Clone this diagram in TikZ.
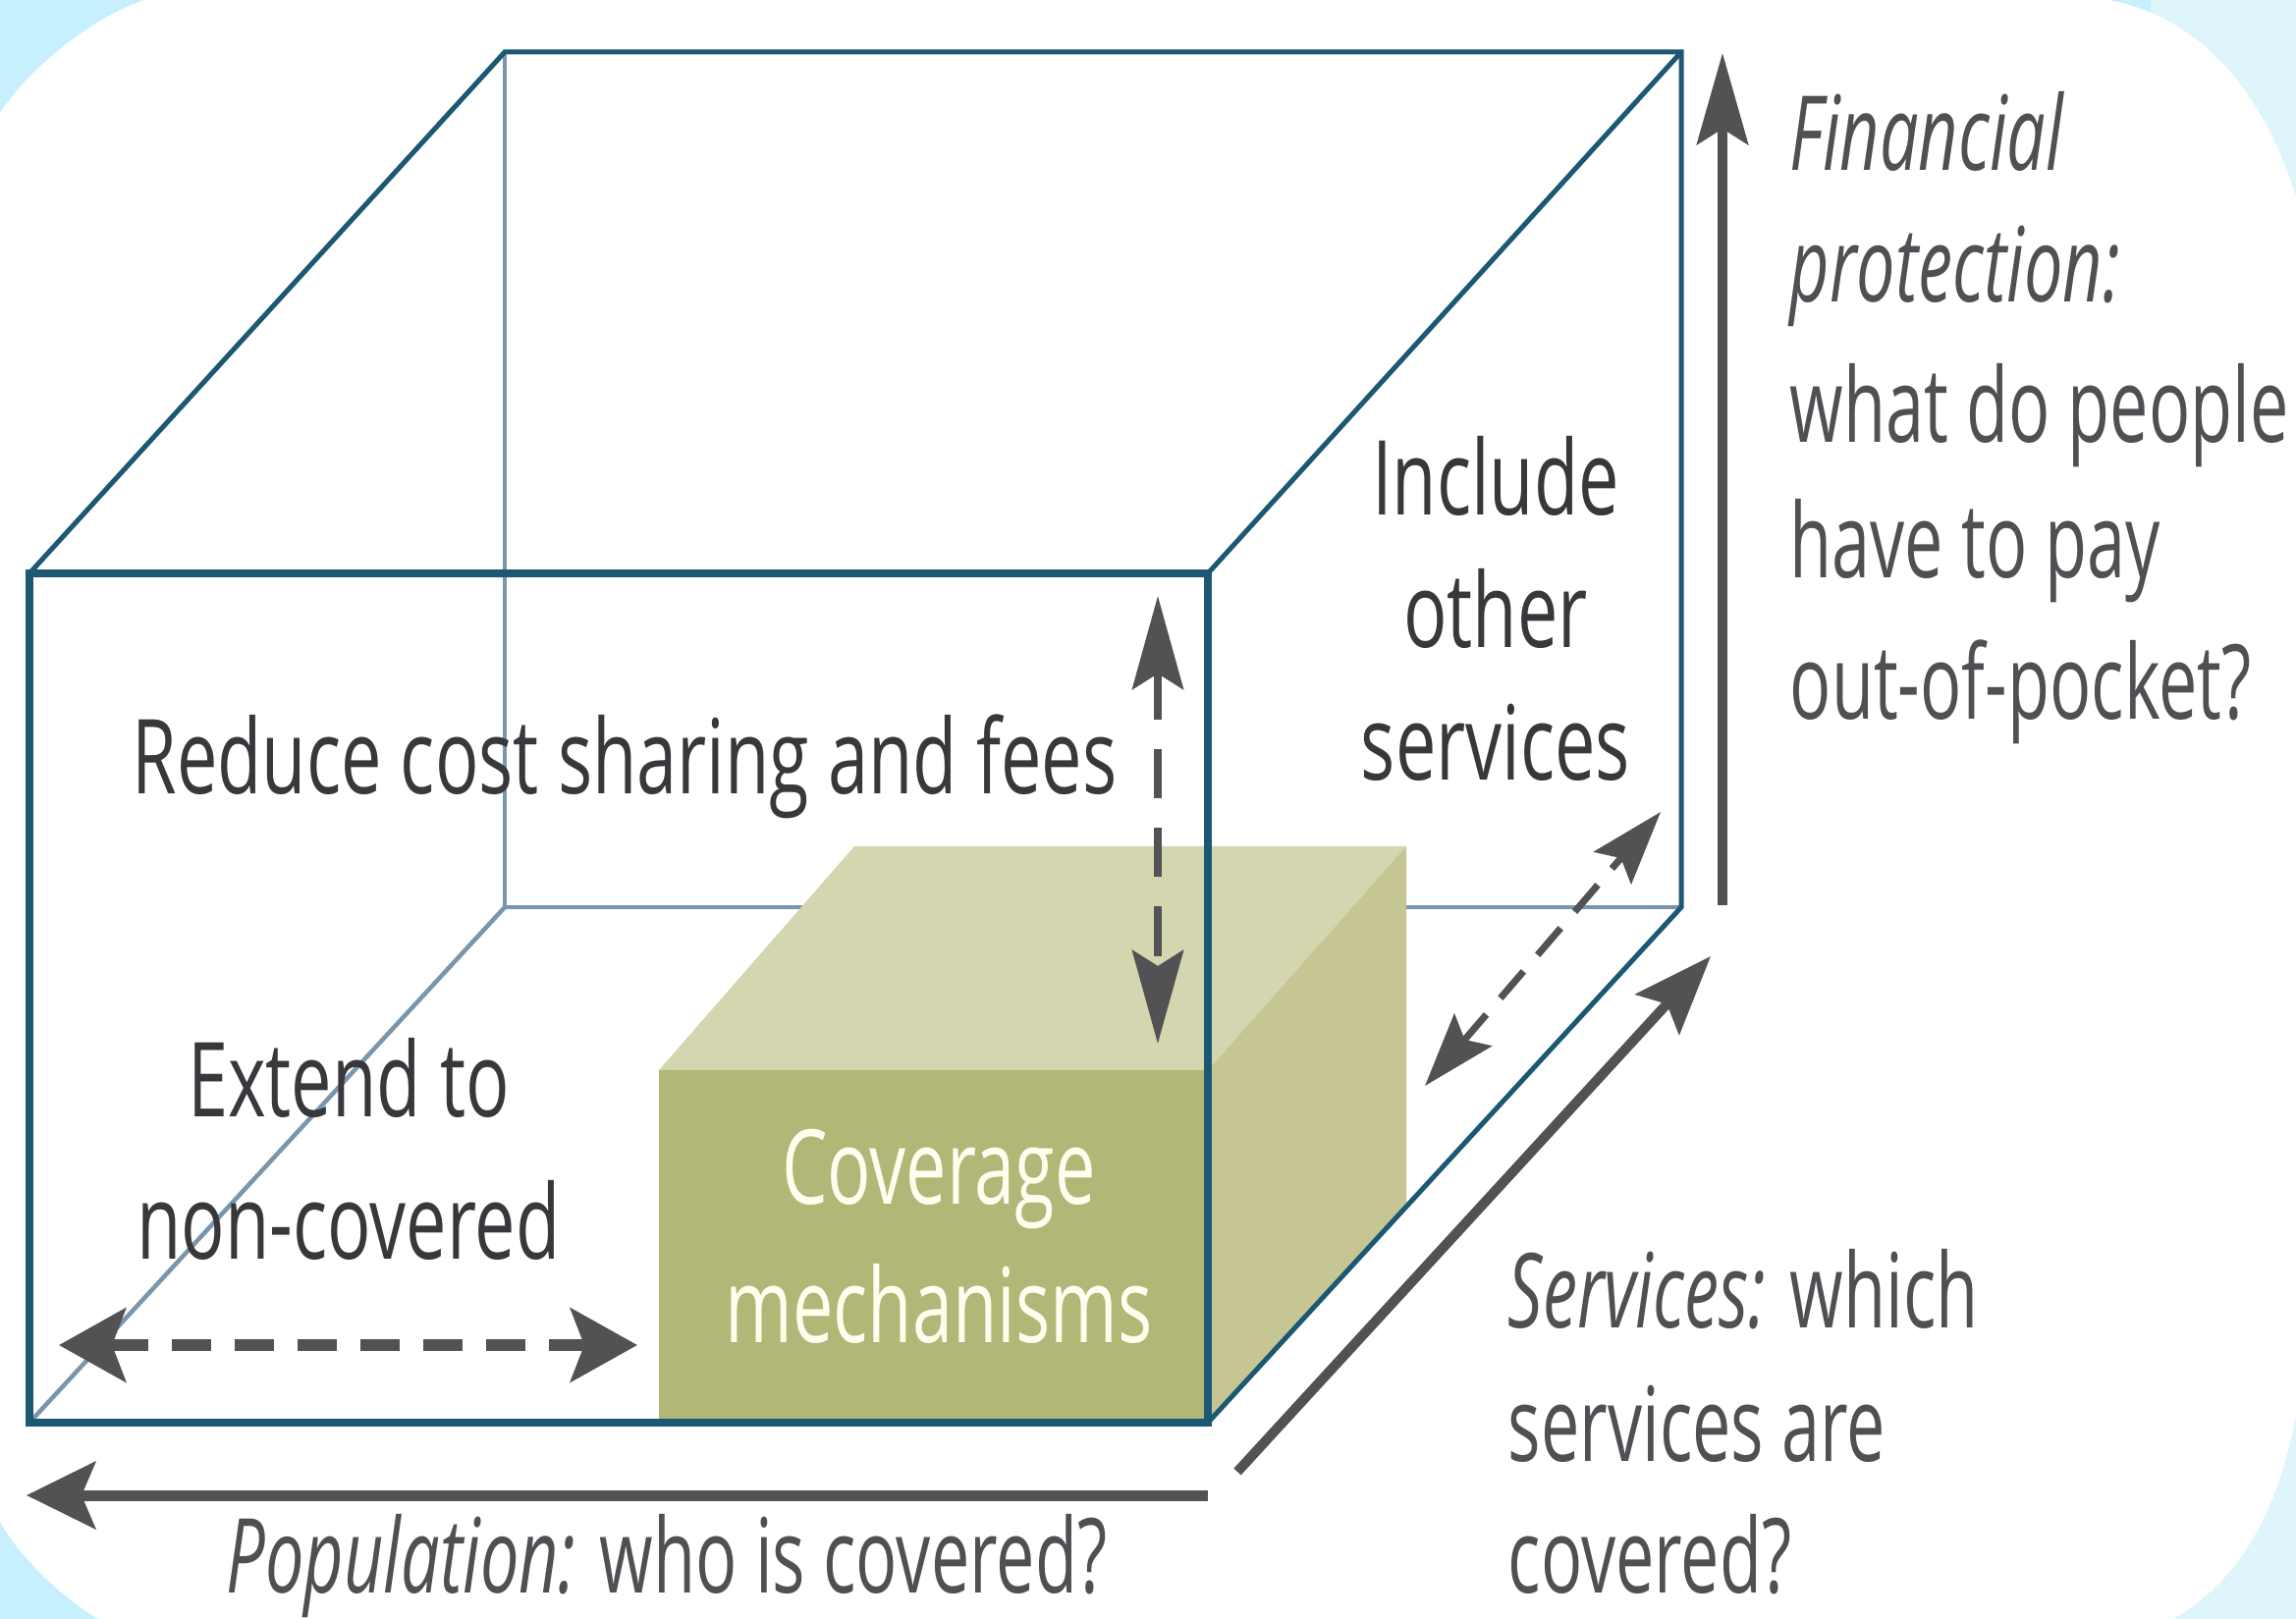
\documentclass[tikz,border=0pt]{standalone}
\usepackage{fontspec}
\setmainfont{Open Sans}[FakeStretch=0.68]
\newfontfamily\cubefont{Open Sans}[FakeStretch=0.70]
\newfontfamily\axisfont{Open Sans}[FakeStretch=0.665]
\usepackage{tikz}
\usetikzlibrary{arrows.meta, % for the swept arrow heads
                positioning}

\definecolor{edgeteal}{RGB}{28,88,115}
\definecolor{hiddenedge}{RGB}{122,150,172}
\definecolor{arrowgray}{RGB}{82,82,85}
\definecolor{textdark}{RGB}{56,56,60}
\definecolor{textgray}{RGB}{80,80,84}
\definecolor{boxfront}{RGB}{178,182,118}
\definecolor{boxtop}{RGB}{212,214,176}
\definecolor{boxside}{RGB}{197,198,148}
\definecolor{skyleft}{RGB}{198,240,254}
\definecolor{skyright}{RGB}{222,245,252}
\definecolor{cream}{RGB}{255,253,238}

\begin{document}
\begin{tikzpicture}[x=0.01cm, y=-0.01cm,
                    frontedge/.style={draw=edgeteal, line width=0.08cm, line join=miter},
                    edge/.style={draw=edgeteal, line width=0.05cm},
                    hidden/.style={draw=hiddenedge, line width=0.045cm},
                    axisarrow/.style={draw=arrowgray, line width=0.11cm},
                    dasharrow/.style={draw=arrowgray, dash pattern=on 0.4cm off 0.24cm},
                    boxtext/.style={font=\cubefont\fontsize{30}{36}\selectfont, text=textdark, inner sep=0pt, anchor=base},
                    axistext/.style={font=\axisfont\fontsize{30}{36}\selectfont, text=textgray, inner sep=0pt, anchor=base west}
                    ]

    \useasboundingbox (0,0) rectangle (2338,1649);

    % BACKGROUND %
    \fill[skyleft] (0,0) rectangle (2190,1649);
    \fill[skyright] (2190,0) rectangle (2338,1649);
    \fill[white] (147,0) -- (2147,0) .. controls (2230,15) and (2300,80) .. (2338,200)
        -- (2338,1440) .. controls (2320,1540) and (2280,1610) .. (2213,1649)
        -- (100,1649) .. controls (60,1625) and (20,1585) .. (0,1550)
        -- (0,115) .. controls (30,70) and (90,20) .. (147,0) -- cycle;

    % CUBE CORNERS %
    \coordinate (F1) at (30,584);
    \coordinate (F2) at (1230,584);
    \coordinate (F3) at (1230,1449);
    \coordinate (F4) at (30,1449);
    \coordinate (B1) at (514,53);
    \coordinate (B2) at (1712,53);
    \coordinate (B3) at (1712,924);
    \coordinate (B4) at (514,924);

    % hidden edges
    \draw[hidden] (B1) -- (B4) -- (B3);
    \draw[hidden] (F4) -- (B4);

    % COVERAGE BOX %
    \coordinate (G1) at (671,1090);
    \coordinate (G2) at (1230,1090);
    \coordinate (G3) at (1230,1449);
    \coordinate (G4) at (671,1449);
    \coordinate (G5) at (870,862);
    \coordinate (G6) at (1432,862);
    \coordinate (G7) at (1432,1228);
    \fill[boxtop] (G1) -- (G5) -- (G6) -- (G2) -- cycle;
    \fill[boxside] (G2) -- (G6) -- (G7) -- (G3) -- cycle;
    \fill[boxfront] (G1) -- (G2) -- (G3) -- (G4) -- cycle;

    % visible edges
    \draw[edge] (F1) -- (B1) -- (B2) -- (B3) -- (F3);
    \draw[edge] (F2) -- (B2);
    \draw[frontedge] (F1) -- (F2) -- (F3) -- (F4) -- cycle;

    % AXES %
    \coordinate (popS) at (1230,1523);
    \coordinate (popE) at (27,1523);
    \coordinate (srvS) at (1260,1499);
    \coordinate (srvE) at (1742,974);
    \coordinate (finS) at (1754,922);
    \coordinate (finE) at (1754,54);
    \draw[axisarrow, -{Stealth[length=0.7cm, width=0.68cm, inset=0.14cm]}] (popS) -- (popE);
    \draw[axisarrow, line width=0.1cm, -{Stealth[length=0.8cm, width=0.6cm, inset=0.14cm]}] (srvS) -- (srvE);
    \draw[axisarrow, line width=0.1cm, -{Stealth[length=0.93cm, width=0.52cm, inset=0.16cm]}] (finS) -- (finE);

    % DASHED DOUBLE ARROWS %
    \coordinate (extL) at (60,1370);
    \coordinate (extR) at (649,1370);
    \coordinate (costT) at (1179,607);
    \coordinate (costB) at (1179,1063);
    \coordinate (inclB) at (1451,1106);
    \coordinate (inclT) at (1691,827);
    \draw[dasharrow, line width=0.11cm, {Stealth[length=0.68cm, width=0.75cm, inset=0.14cm]}-{Stealth[length=0.68cm, width=0.75cm, inset=0.14cm]}] (extL) -- (extR);
    \draw[dasharrow, line width=0.08cm, dash pattern=on 0.5cm off 0.3cm, {Stealth[length=0.95cm, width=0.52cm, inset=0.16cm]}-{Stealth[length=0.95cm, width=0.52cm, inset=0.16cm]}] (costT) -- (costB);
    \draw[dasharrow, line width=0.07cm, dash pattern=on 0.36cm off 0.22cm, {Stealth[length=0.75cm, width=0.5cm, inset=0.13cm]}-{Stealth[length=0.75cm, width=0.5cm, inset=0.13cm]}] (inclB) -- (inclT);

    % TEXTS IN THE CUBE %
    \node[boxtext] (reduce) at (636,808) {Reduce cost sharing and fees};

    \foreach \txt/\yy [count=\i] in {Extend to/1137, non-covered/1282}
    \node[boxtext] (extend\i) at (355,\yy) {\txt};

    \foreach \txt/\yy [count=\i] in {Include/525, other/660, services/795}
    \node[boxtext] (include\i) at (1523,\yy) {\txt};

    \foreach \txt/\yy [count=\i] in {Coverage/1226, mechanisms/1367}
    \node[boxtext, text=cream] (coverage\i) at (956,\yy) {\txt};

    % AXIS TEXTS %
    \foreach \txt/\yy [count=\i] in {\textit{Financial}/174, \textit{protection:}/308, what do people/451, have to pay/589, out-of-pocket?/733}
    \node[axistext] (financial\i) at (1822,\yy) {\txt};

    \foreach \txt/\yy [count=\i] in {\textit{Services:} which/1352, services are/1488, covered?/1622}
    \node[axistext] (services\i) at (1535,\yy) {\txt};

    \node[axistext] (population) at (230,1622) {\textit{Population:} who is covered?};

\end{tikzpicture}
\end{document}
